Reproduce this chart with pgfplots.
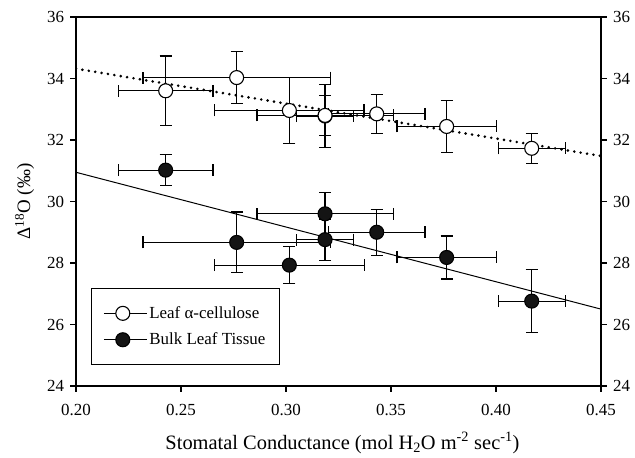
\documentclass[border=0pt]{standalone}
\usepackage{pgfplots}
\pgfplotsset{compat=1.18}
\usepackage{pgfplotstable}
\usepackage{fontspec}
\setmainfont{Liberation Serif}

\pgfplotsset{myleg/.style={legend image code/.code={\path (0bp,0bp) -- (43bp,0bp); \draw[mark repeat=2,mark phase=2,##1,only marks] plot coordinates {(0bp,0bp) (19bp,0bp) (43bp,0bp)};}}}

\pgfplotstableread{
x y ex ey
0.2427 33.60 0.0225 1.13
0.2765 34.03 0.0446 0.85
0.3016 32.96 0.0355 1.08
0.3186 32.78 0.0135 1.03
0.3186 32.80 0.0324 0.66
0.3432 32.85 0.0230 0.63
0.3765 32.44 0.0236 0.84
0.4170 31.73 0.0160 0.49
}\opentab

\pgfplotstableread{
x y ex ey
0.2427 31.02 0.0225 0.51
0.2765 28.67 0.0446 0.99
0.3016 27.93 0.0358 0.60
0.3186 29.60 0.0324 0.70
0.3186 28.76 0.0135 0.67
0.3432 29.00 0.0230 0.75
0.3765 28.18 0.0236 0.70
0.4170 26.76 0.0160 1.02
}\filledtab

\begin{document}
\begin{tikzpicture}[x=1bp,y=1bp]
\path[use as bounding box] (-76bp,-72bp) rectangle (559bp,386bp);
\pgfplotsset{
  every axis/.append style={
    scale only axis, width=525bp, height=369bp,
    xmin=0.20, xmax=0.45, ymin=24, ymax=36,
    tick align=outside, major tick length=5.5bp,
    tick style={line width=1.1pt, black},
    axis line style={line width=1.1pt},
    ticklabel style={font=\fontsize{17}{19}\selectfont},
    /pgf/number format/assume math mode=true,
  }
}
\begin{axis}[
  xtick={0.20,0.25,0.30,0.35,0.40,0.45},
  ytick={24,26,...,36},
  xtick pos=bottom, ytick pos=left,
  xticklabel style={yshift=-9bp, /pgf/number format/.cd, fixed, fixed zerofill, precision=2},
  yticklabel style={xshift=-3bp},
  xlabel={Stomatal Conductance (mol H\textsubscript{2}O m\textsuperscript{-2} sec\textsuperscript{-1})},
  ylabel={Δ\textsuperscript{18}O (‰)},
  xlabel style={font=\fontsize{20.5}{24}\selectfont, yshift=-10bp, xshift=4bp},
  ylabel style={font=\fontsize{19}{22}\selectfont, yshift=6bp},
  legend style={at={(90.7bp-76bp, 386bp-365bp)}, anchor=south west, draw=black, line width=1.1pt,
    font=\fontsize{17}{19}\selectfont, row sep=9bp, inner xsep=12bp, inner ysep=16bp,
    cells={anchor=west}},
  legend cell align=left,
  error bars/error bar style={line width=1.2pt, black},
  error bars/error mark options={rotate=90, mark size=6bp, line width=1.2pt, black},
]
\addplot[black, line width=2.9pt, line cap=round, dash pattern=on 0pt off 6.5pt, forget plot]
  coordinates {(0.20,34.32) (0.45,31.48)};
\addplot[black, line width=1pt, forget plot]
  coordinates {(0.20,30.95) (0.45,26.50)};
\addplot[only marks, myleg, mark=*, mark size=7bp, mark options={fill=white, draw=black, line width=1.1pt},
  error bars/.cd, x dir=both, x explicit, y dir=both, y explicit]
  table[x=x, y=y, x error=ex, y error=ey] {\opentab};
\addlegendentry{Leaf α-cellulose}
\addplot[only marks, myleg, mark=*, mark size=7bp, mark options={fill=black!92, draw=black, line width=1.1pt},
  error bars/.cd, x dir=both, x explicit, y dir=both, y explicit]
  table[x=x, y=y, x error=ex, y error=ey] {\filledtab};
\addlegendentry{Bulk Leaf Tissue}
\end{axis}
\begin{axis}[
  axis x line=none, axis y line*=right,
  ytick={24,26,...,36},
  yticklabel style={xshift=3bp},
  xtick=\empty,
]
\end{axis}
\end{tikzpicture}
\end{document}
